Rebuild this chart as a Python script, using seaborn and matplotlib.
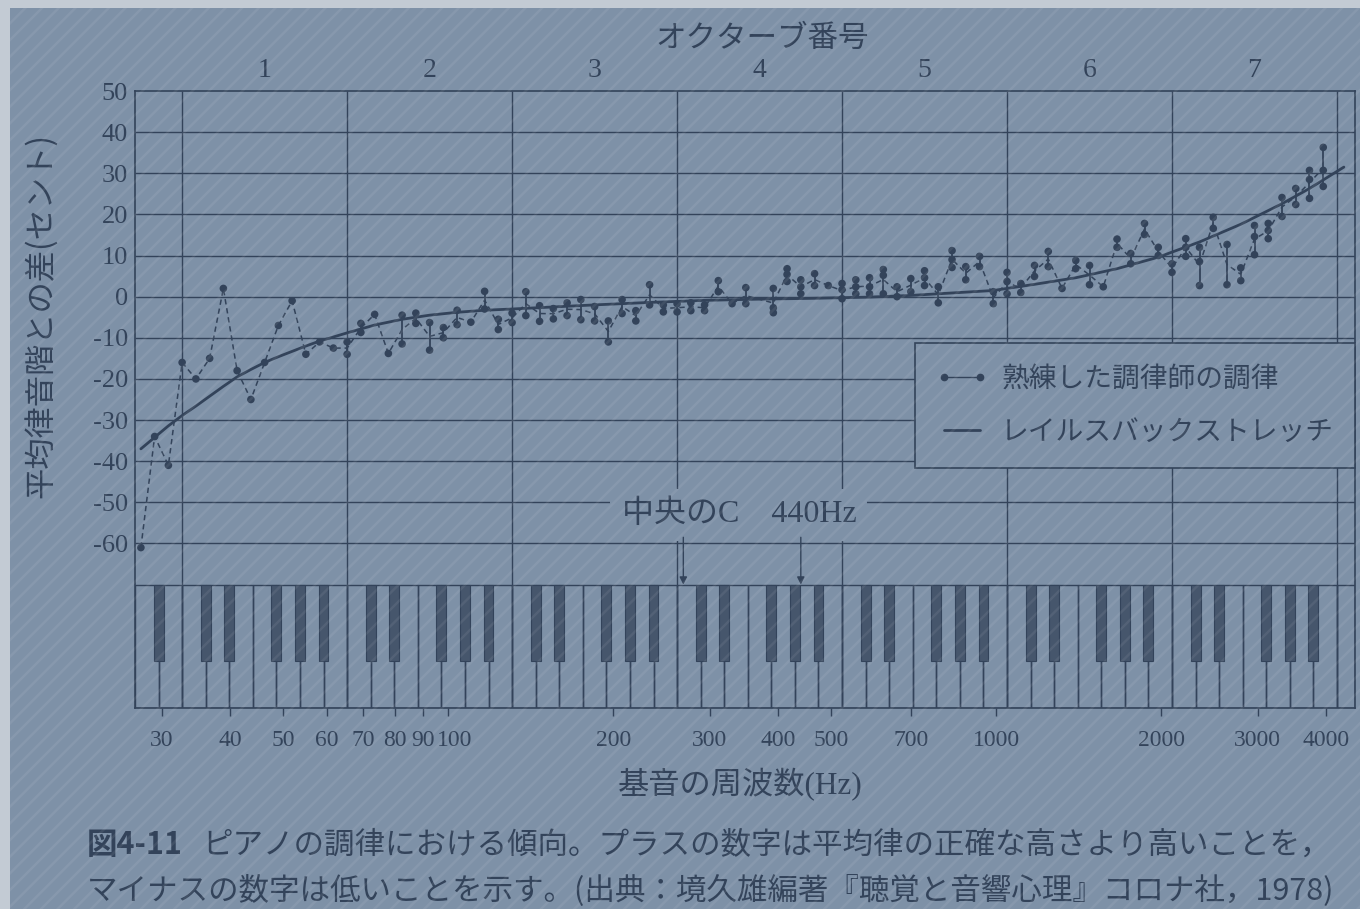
import numpy as np
import pandas as pd
import matplotlib
matplotlib.use("Agg")
import matplotlib.pyplot as plt
import matplotlib.transforms as mtransforms
from matplotlib.patches import Rectangle
from matplotlib.lines import Line2D
import seaborn as sns

nan = np.nan

# ---------------- data ----------------
# piano key number (1 = A0 = 27.5 Hz ... 88 = C8)
keys = list(range(1, 88))
reading_1 = [-61, -34, -41, -16, -20, -15, 2, -18, -25, -16, -7, -1, -14, -11, -12.5,
             -11, -6.5, -4.3, -13.8, -4.5, -4, -6.3, -7.5, -3.3, -6.2, 1.3, -5.5,
             -4, 1.2, -2.2, -2.9, -1.5, -0.7, -2.4, -5.9, -0.7, -3.4, 2.9, -2,
             -1.7, -1.5, -2, 3.9, -1.7, 2.2, nan, 2, 6.8, 4.1, 5.6, 2.7,
             3.2, 4.1, 4.6, 6.6, 2.4, 4.4, 6.3, 2.4, 11.2, 7.3, 9.8, 1.2,
             5.9, 3.2, 7.6, 11, 2, 8.8, 7.6, 2.4, 14, 10.5, 17.8, 12,
             8, 14.1, 12, 19.3, 12.7, 7, 17.3, 17.8, 24.1, 26.3, 30.7, 36.3]
reading_2 = [nan, nan, nan, nan, nan, nan, nan, nan, nan, nan, nan, nan, nan, nan, nan,
             -14, -8.7, nan, nan, -11.5, -6.5, -13, -10, -6.8, nan, -3, -8,
             -6.3, -4.6, -6, -5.4, -4.6, -5.6, -5.9, -11, -4.1, -5.9, -2, -3.7,
             -3.7, -3.4, -3.4, 1.2, nan, -1.7, nan, -2.7, 5.4, 2.4, 2.7, nan,
             1.7, 2.4, 2.4, 5.2, 0, 1.2, 4.6, -1.5, 9, 4.1, 7.3, -1.7,
             3.7, 1, 4.9, 7.3, nan, 6.8, 2.9, nan, 12, 8, 15.1, 10,
             5.9, 12, 8.5, 16.6, 2.9, 3.9, 14.6, 16.1, 19.5, 22.4, 28.5, 30.7]
reading_3 = [nan] * 46 + [-3.9, 3.7, 0.7, nan, nan,
             -0.5, 0.7, 0.7, 0.7, nan, nan, 2.7, nan, 7.1, nan, nan, nan,
             0.7, nan, nan, nan, nan, nan, nan, nan, nan, nan, nan, nan,
             nan, 9.8, 2.7, nan, nan, nan, 10.2, 14.1, nan, nan, 23.9, 26.8]

# Railsback stretch curve (key number, cents)
curve_keys = [1, 2, 3, 4, 5, 6, 7, 8, 9, 10, 11, 12, 13, 14, 16, 18, 20, 22, 24, 26,
              28, 31, 34, 38, 42, 46, 50, 54, 57, 60, 63, 66, 69, 72, 75, 78, 81,
              84, 86, 88.5]
curve_cents = [-37, -34.2, -31.4, -28.9, -26.6, -24.2, -21.8, -19.5, -17.7, -16,
               -14.6, -13.3, -12.0, -10.8, -8.8, -6.9, -5.5, -4.5, -3.8, -3.3,
               -3.0, -2.5, -2.0, -1.4, -0.9, -0.6, -0.4, -0.1, 0.3, 0.9, 1.5,
               3.0, 4.6, 6.8, 9.6, 13.3, 17.6, 22.6, 26.3, 31.5]

y_ticks = [50, 40, 30, 20, 10, 0, -10, -20, -30, -40, -50, -60]
x_ticks = [30, 40, 50, 60, 70, 80, 90, 100, 200, 300, 400, 500, 700, 1000, 2000, 3000, 4000]
octave_numbers = [1, 2, 3, 4, 5, 6, 7]
c_freqs = [32.703, 65.406, 130.81, 261.63, 523.25, 1046.5, 2093.0, 4186.0]
middle_c = 261.63
a440 = 440.0

top_title = "オクターブ番号"
y_label = "平均律音階との差(セント)"
x_label = "基音の周波数(Hz)"
legend_labels = ["熟練した調律師の調律", "レイルスバックストレッチ"]
marker_text = "中央のC\u3000440Hz"
caption_bold = "図4-11"
caption_line1 = "ピアノの調律における傾向。プラスの数字は平均律の正確な高さより高いことを，"
caption_line2 = "マイナスの数字は低いことを示す。(出典：境久雄編著『聴覚と音響心理』コロナ社，1978)"

# ---------------- style ----------------
bg = "#7e91a7"
ink = "#33435a"
key_fill = "#46566c"

sns.set_theme(style="white")
plt.rcParams["font.family"] = ["Noto Sans CJK JP", "DejaVu Sans"]
plt.rcParams["hatch.linewidth"] = 1.8
serif_cjk = ["Liberation Serif", "Noto Sans CJK JP"]


def key_freq(k):
    return 27.5 * 2.0 ** ((np.asarray(k, dtype=float) - 1) / 12.0)


x_left = c_freqs[0] / 2 ** (2 / 7)
x_right = 4515.0
y_bottom, y_top = -100.0, 50.0
kb_top, kb_black = -70.0, -88.5

fig = plt.figure(figsize=(13.6, 9.09), dpi=100, facecolor=bg)
ax = fig.add_axes([135 / 1360, 1 - 708 / 909, 1220 / 1360, 617 / 909])
ax.set_facecolor(bg)
ax.set_xscale("log")
ax.set_xlim(x_left, x_right)
ax.set_ylim(y_bottom, y_top)

# grid
ax.hlines(y_ticks[1:], x_left, x_right, color=ink, lw=1.0, zorder=1)
ax.vlines(c_freqs, y_bottom, y_top, color=ink, lw=1.0, zorder=1)

# keyboard
white_names = "ABCDEFG"
bounds = x_left * 2 ** (np.arange(53) / 7)
for i in range(52):
    r = min(bounds[i + 1], x_right)
    ax.add_patch(Rectangle((bounds[i], y_bottom), r - bounds[i], kb_top - y_bottom,
                           facecolor="none", edgecolor=ink, lw=1.0, zorder=2))
half = 2 ** (0.21 / 7)
for i in range(51):
    if white_names[i % 7] in "ACDFG":
        b = bounds[i + 1]
        ax.add_patch(Rectangle((b / half, kb_black), b * half - b / half, kb_top - kb_black,
                               facecolor=key_fill, edgecolor=ink, lw=0.8, zorder=3))

# tuner data
tuner = pd.DataFrame({"key": keys, "r1": reading_1, "r2": reading_2, "r3": reading_3})
tuner["freq"] = key_freq(tuner["key"])
vals = tuner[["r1", "r2", "r3"]]
tuner["mean"] = vals.mean(axis=1)
tuner["lo"] = vals.min(axis=1)
tuner["hi"] = vals.max(axis=1)

line_df = tuner.dropna(subset=["mean"])
sns.lineplot(data=line_df, x="freq", y="mean", estimator=None, sort=True,
             color=ink, lw=1.1, ax=ax, zorder=4)
ax.lines[-1].set_linestyle((0, (3.5, 2.5)))

rng = tuner[tuner["hi"] > tuner["lo"]]
ax.vlines(rng["freq"], rng["lo"], rng["hi"], color=ink, lw=1.3, zorder=4)

pts = tuner.melt(id_vars=["freq"], value_vars=["r1", "r2", "r3"], value_name="cents").dropna()
sns.scatterplot(data=pts, x="freq", y="cents", color=ink, s=30, edgecolor="none",
                ax=ax, zorder=5, legend=False)

# Railsback curve
curve = pd.DataFrame({"freq": key_freq(curve_keys), "cents": curve_cents})
sns.lineplot(data=curve, x="freq", y="cents", estimator=None, sort=True,
             color=ink, lw=2.0, ax=ax, zorder=5)

# axes cosmetics
for s in ax.spines.values():
    s.set_color(ink)
    s.set_linewidth(1.2)
    s.set_visible(True)
ax.set_xlabel("")
ax.set_ylabel("")
ax.set_yticks(y_ticks)
ax.set_yticklabels([str(v) for v in y_ticks], family=serif_cjk, fontsize=19, color=ink)
ax.tick_params(axis="y", length=0, pad=5)
ax.xaxis.set_minor_locator(matplotlib.ticker.NullLocator())
ax.set_xticks(x_ticks)
ax.set_xticklabels([str(v) for v in x_ticks], family=serif_cjk, fontsize=17, color=ink)
ax.tick_params(axis="x", length=5.5, width=1.0, color=ink, pad=10, bottom=True, direction="out")
# the printed "100" sits a little right of its tick, clear of "90"
for lab in ax.get_xticklabels():
    if lab.get_text() == "100":
        lab.set_transform(lab.get_transform() + mtransforms.ScaledTranslation(6 / 100, 0, fig.dpi_scale_trans))

# octave numbers
trans_top = mtransforms.blended_transform_factory(ax.transData, ax.transAxes)
for n in octave_numbers:
    ax.text(c_freqs[n - 1] * np.sqrt(2), 1.033, str(n), transform=trans_top,
            ha="center", va="center", family=serif_cjk, fontsize=20, color=ink)

fig.text(762 / 1360, 1 - 38 / 909, top_title, ha="center", va="center",
         fontsize=22, color=ink)
fig.text(42 / 1360, 1 - 315 / 909, y_label, ha="center", va="center", rotation=90,
         fontsize=22.5, color=ink)
fig.text(740 / 1360, 1 - 785 / 909, x_label, ha="center", va="center",
         family=serif_cjk, fontsize=22.5, color=ink)

# legend
handles = [Line2D([], [], color=ink, lw=1.0, marker="o", markersize=4.5, linestyle="-"),
           Line2D([], [], color=ink, lw=2.0)]
leg = ax.legend(handles, legend_labels, loc="upper right", bbox_to_anchor=(1.0, 0.592),
                borderaxespad=0, frameon=True, fancybox=False, framealpha=1,
                facecolor=bg, edgecolor=ink, numpoints=2, handlelength=1.9,
                handletextpad=0.45, labelspacing=0.85, borderpad=0.75,
                prop={"family": "Noto Sans CJK JP", "size": 20})
for t in leg.get_texts():
    t.set_color(ink)
leg.get_frame().set_linewidth(1.2)
leg.set_zorder(6)

# middle C / 440 Hz marker
ax.text(np.sqrt(middle_c * a440), -53, marker_text, ha="center", va="center",
        family=serif_cjk, fontsize=23, color=ink, zorder=7,
        bbox=dict(boxstyle="square,pad=0.35", facecolor=bg, edgecolor="none"))
shift = mtransforms.offset_copy(ax.transData, fig=fig, x=4.5, y=0, units="points")
for f, tr in [(middle_c, shift), (a440, ax.transData)]:
    ax.annotate("", xy=(f, kb_top), xycoords=tr, xytext=(f, -58.5), textcoords=tr,
                arrowprops=dict(arrowstyle="-|>", color=ink, lw=1.0, mutation_scale=11,
                                shrinkA=0, shrinkB=0), zorder=7)

# caption
t1 = fig.text(87 / 1360, 1 - 845 / 909, caption_bold, ha="left", va="center",
              fontsize=22, fontweight="bold", color=ink)
ax.annotate(caption_line1, xy=(1, 0.5), xycoords=t1, xytext=(14, 0),
            textcoords="offset points", ha="left", va="center", fontsize=22,
            color=ink, annotation_clip=False)
fig.text(87 / 1360, 1 - 890 / 909, caption_line2, ha="left", va="center",
         fontsize=22, color=ink)

# paper edge + texture
fig.add_artist(Rectangle((0, 1 - 8 / 909), 1, 8 / 909, transform=fig.transFigure,
                         facecolor="#c3cbd4", edgecolor="none", zorder=20))
fig.add_artist(Rectangle((0, 0), 10 / 1360, 1, transform=fig.transFigure,
                         facecolor="#c3cbd4", edgecolor="none", zorder=20))
fig.add_artist(Rectangle((0, 0), 1, 1, transform=fig.transFigure, facecolor="none",
                         edgecolor=(1, 1, 1, 0.07), lw=0, hatch="//", zorder=19))

fig.savefig("out.png", dpi=100, facecolor=bg)
